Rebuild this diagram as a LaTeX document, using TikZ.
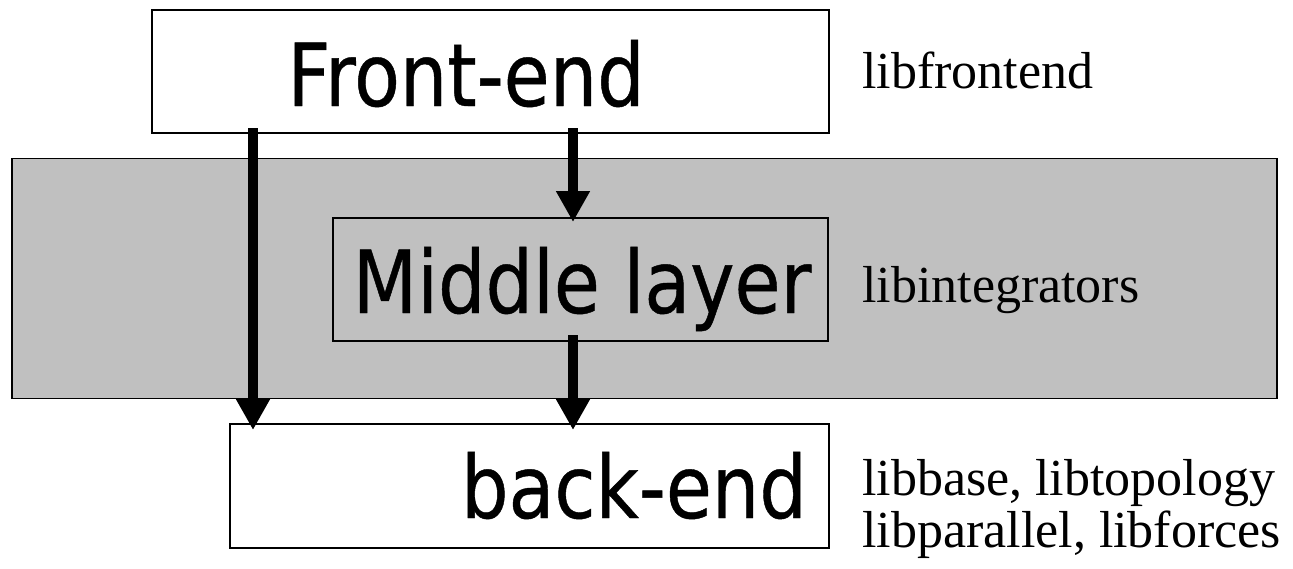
\documentclass[tikz,border=0pt]{standalone}
\usepackage{fontspec}
\setmainfont{Liberation Serif}
\newfontfamily\boxfont[FakeStretch=0.86, FakeBold=0.5]{DejaVu Sans}
\usetikzlibrary{arrows.meta}

\definecolor{layergrey}{HTML}{C0C0C0}

\tikzset{
  layerbox/.style={draw=black, line width=1.6pt, inner sep=0pt},
  bigtext/.style={font=\boxfont\fontsize{87}{100}\selectfont, inner sep=0pt},
  libtext/.style={font=\fontsize{52}{52}\selectfont, inner sep=0pt, anchor=base west},
  callarrow/.style={line width=10pt, -{Triangle[length=31pt,width=32pt]}},
}

\begin{document}
\begin{tikzpicture}[x=1pt, y=-1pt]
  \useasboundingbox (0,0) rectangle (1293,568);

  % grey band holding the middle layer
  \node[layerbox, fill=layergrey, minimum width=1265pt, minimum height=240pt] (band) at (644.5,278.5) {};

  % the three layers
  \node[layerbox, fill=white, minimum width=677pt, minimum height=123pt] (fe) at (490.5,71.5) {};
  \node[layerbox, fill=layergrey, minimum width=495pt, minimum height=123pt] (mid) at (580.5,279.5) {};
  \node[layerbox, fill=white, minimum width=599pt, minimum height=124pt] (be) at (529.5,486) {};

  \node[bigtext, anchor=base] (fetext) at (466,106) {Front-end};
  \node[bigtext, anchor=base] (midtext) at (582,313) {Middle layer};
  \node[bigtext, anchor=base east] (betext) at (807,518) {back-end};

  % library names
  \node[libtext] (libfe) at (862,88) {libfrontend};
  \node[libtext] (libmid) at (862,302) {libintegrators};
  \node[libtext] (libbeone) at (862,495) {libbase, libtopology};
  \node[libtext] (libbetwo) at (862,547) {libparallel, libforces};

  % call dependencies
  \coordinate (feleft) at (253,128);
  \coordinate (beleft) at (253,430);
  \coordinate (feright) at (573,128);
  \coordinate (midtop) at (573,222);
  \coordinate (midbot) at (573,335);
  \coordinate (beright) at (573,430);

  \draw[callarrow] (feleft) -- (beleft);
  \draw[callarrow] (feright) -- (midtop);
  \draw[callarrow] (midbot) -- (beright);
\end{tikzpicture}
\end{document}
